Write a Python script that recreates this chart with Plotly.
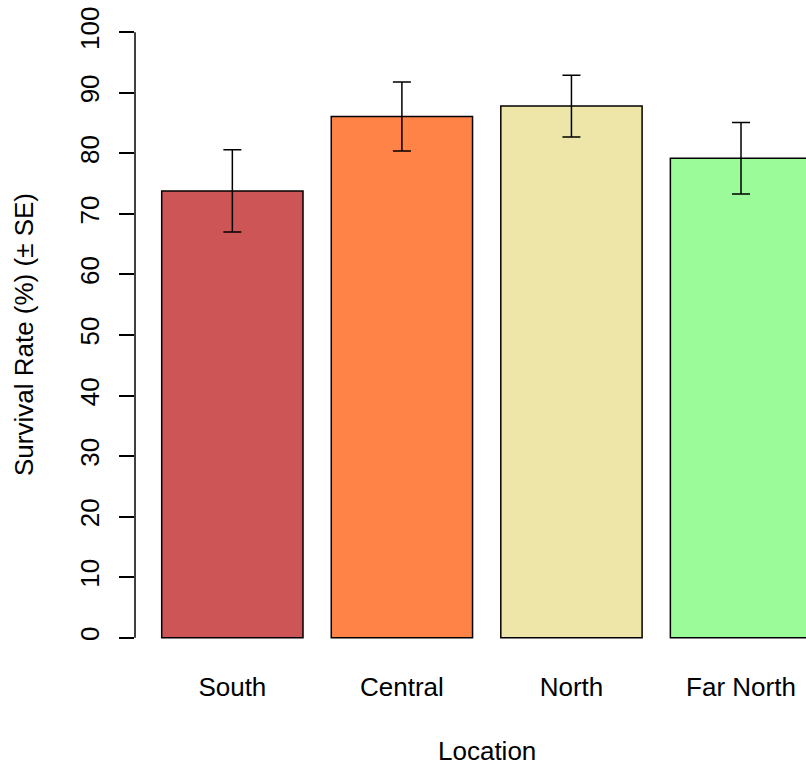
import plotly.graph_objects as go

# Survival rate by location, mean with standard error
locations = ["South", "Central", "North", "Far North"]
survival = [73.8, 86.1, 87.8, 79.2]
std_err = [6.8, 5.7, 5.1, 5.9]
bar_colors = ["#CD5555", "#FF8247", "#EEE6A9", "#9AFB98"]
y_ticks = [0, 10, 20, 30, 40, 50, 60, 70, 80, 90, 100]

# barplot-style positions: width 1, space 0.2
centers = [0.7 + 1.2 * i for i in range(len(locations))]

FONT = "Liberation Sans, Arial, sans-serif"
FS = 26

fig = go.Figure()
fig.add_trace(go.Bar(
    x=centers,
    y=survival,
    width=1.0,
    marker=dict(color=bar_colors, line=dict(color="#000000", width=1.5)),
    error_y=dict(type="data", array=std_err, visible=True,
                 color="#000000", thickness=1.5, width=9),
    showlegend=False,
))

fig.update_layout(
    width=806, height=769,
    margin=dict(l=135, r=0, t=8, b=107),
    paper_bgcolor="white", plot_bgcolor="white",
    font=dict(family=FONT, size=FS, color="#000000"),
    xaxis=dict(
        range=[0.011, 4.76],
        tickvals=centers, ticktext=locations,
        showgrid=False, zeroline=False, showline=False, ticks="",
        tickfont=dict(family=FONT, size=FS, color="#000000"),
        ticklabelstandoff=7,
    ),
    yaxis=dict(
        range=[-4, 104],
        tickvals=y_ticks,
        tickangle=-90,
        showgrid=False, zeroline=False, showline=False,
        ticks="outside", ticklen=15, tickwidth=1.5, tickcolor="#000000",
        tickfont=dict(family=FONT, size=FS, color="#000000"),
        ticklabelstandoff=10,
    ),
)

# y axis line spanning only the tick range
fig.add_shape(type="line", xref="paper", yref="y",
              x0=0, x1=0, y0=y_ticks[0], y1=y_ticks[-1],
              line=dict(color="#000000", width=1.5))

fig.add_annotation(text="Location", xref="paper", yref="paper",
                   x=(487 - 135) / 671, y=(662 - 751) / 654,
                   xanchor="center", yanchor="middle", showarrow=False,
                   font=dict(family=FONT, size=FS, color="#000000"))
fig.add_annotation(text="Survival Rate (%) (± SE)", xref="paper", yref="paper",
                   x=(24 - 135) / 671, y=0.5, textangle=-90,
                   xanchor="center", yanchor="middle", showarrow=False,
                   font=dict(family=FONT, size=FS, color="#000000"))

fig.write_html("out.html")
